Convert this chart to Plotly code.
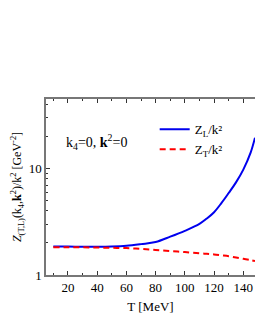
import plotly.graph_objects as go

T = [10, 20, 30, 40, 50, 60, 70, 80, 90, 100, 110, 115, 120, 125, 130, 135, 140, 145, 148]
ZL = [1.85, 1.85, 1.84, 1.84, 1.85, 1.88, 1.95, 2.04, 2.29, 2.60, 3.02, 3.39, 3.89, 4.73, 5.89, 7.41, 9.77, 14.1, 19.5]
ZT = [1.82, 1.82, 1.82, 1.81, 1.80, 1.79, 1.76, 1.72, 1.68, 1.64, 1.60, 1.58, 1.56, 1.53, 1.50, 1.46, 1.42, 1.38, 1.35]

xticks = [20, 40, 60, 80, 100, 120, 140]
xminor = [10, 30, 50, 70, 90, 110, 130, 150]
yticks = [1, 10]
yminor = [2, 3, 4, 5, 6, 7, 8, 9, 20, 30, 40]

font = "Liberation Serif, Times New Roman, serif"

fig = go.Figure()
fig.add_trace(go.Scatter(x=T, y=ZL, mode="lines", name="Z<sub>L</sub>/k²",
                         line=dict(color="#0000ee", width=2, shape="spline")))
fig.add_trace(go.Scatter(x=T, y=ZT, mode="lines", name="Z<sub>T</sub>/k²",
                         line=dict(color="#ff0000", width=2, dash="6px,4px", shape="spline")))

fig.update_layout(
    width=255, height=330,
    margin=dict(l=46, r=0, t=99, b=55),
    paper_bgcolor="white", plot_bgcolor="white",
    font=dict(family=font, size=13, color="black"),
    showlegend=True,
    legend=dict(x=0.52, y=0.913, xanchor="left", yanchor="top",
                bgcolor="rgba(0,0,0,0)", font=dict(size=13), tracegroupgap=0,
                itemwidth=30),
    annotations=[dict(text="k<sub>4</sub>=0, <b>k</b><sup>2</sup>=0",
                      x=(64 - 46) / 209, y=(275 - 141.7) / 176,
                      xanchor="left", yanchor="middle",
                      xref="paper", yref="paper", showarrow=False, font=dict(size=14))],
)

fig.update_xaxes(range=[5, 148], showline=True, linecolor="#777", linewidth=1.5,
                 mirror="ticks", ticks="inside", ticklen=4, tickcolor="#333",
                 tickvals=xticks, showgrid=False, zeroline=False,
                 minor=dict(tickvals=xminor, ticks="inside", ticklen=2.5, tickcolor="#333", showgrid=False),
                 title=dict(text="T [MeV]", standoff=8, font=dict(size=13)),
                 tickfont=dict(size=13))
fig.update_yaxes(type="log", range=[0, 1.653], showline=True, linecolor="#777", linewidth=1.5,
                 ticks="inside", ticklen=4, tickcolor="#333",
                 tickvals=yticks, ticktext=["1", "10"], showgrid=False, zeroline=False,
                 minor=dict(tickvals=yminor, ticks="inside", ticklen=2.5, tickcolor="#333", showgrid=False),
                 title=dict(text="<i>Z</i><sub>(T,L)</sub>(k<sub>4</sub>,<b>k</b><sup>2</sup>)/k<sup>2</sup> [GeV<sup>-2</sup>]",
                            standoff=4, font=dict(size=12)),
                 tickfont=dict(size=13))

fig.write_html("out.html", config={"displayModeBar": False},
               post_script="document.body.style.margin='0';document.body.style.overflow='hidden';")
